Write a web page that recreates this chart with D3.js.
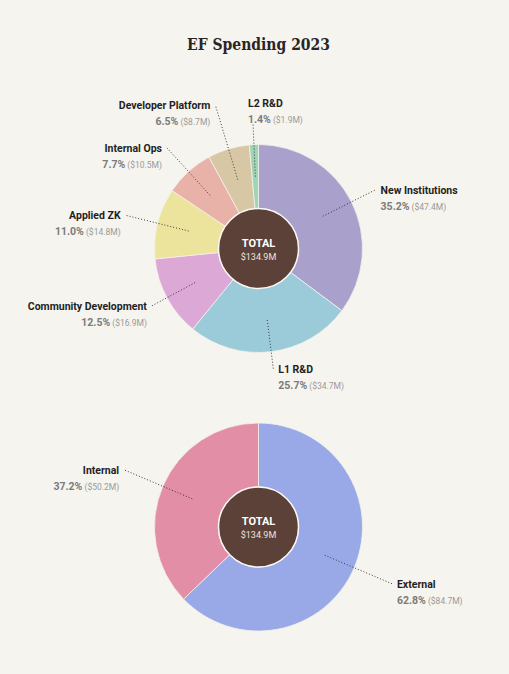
<!DOCTYPE html>
<html>
<head>
<meta charset="utf-8">
<script src="https://cdn.jsdelivr.net/npm/d3@7"></script>
<style>
  html, body { margin: 0; padding: 0; background: #f6f4ee; }
  svg { display: block; }
</style>
</head>
<body>
<div id="mainvis"></div>
<script>
// top donut: by program area, clockwise from 12 o'clock
let areaNames = ["New Institutions", "L1 R&D", "Community Development", "Applied ZK", "Internal Ops", "Developer Platform", "L2 R&D"];
let areaPct = [35.2, 25.7, 12.5, 11.0, 7.7, 6.5, 1.4];
let areaUsd = ["$47.4M", "$34.7M", "$16.9M", "$14.8M", "$10.5M", "$8.7M", "$1.9M"];
let areaColors = ["#a9a1cb", "#9bcbd9", "#dca8d6", "#ece49c", "#e8b2a8", "#d8c7a4", "#9fd4b6"];

// bottom donut: internal vs external
let kindNames = ["External", "Internal"];
let kindPct = [62.8, 37.2];
let kindUsd = ["$84.7M", "$50.2M"];
let kindColors = ["#99a9e8", "#e28ea7"];

let total = "$134.9M";

// label layout: distance of the leader line's outer end, and which side text sits on
let areaLeadR = [131, 121, 121, 137, 136, 150, 126];
let areaSide = ["right", "right", "left", "left", "left", "left", "top"];
let kindLeadR = [145, 146];
let kindSide = ["right", "left"];

let width = 509, height = 674;
let outerR = 104, innerR = 40;

let svg = d3.select("#mainvis")
    .append("svg")
    .attr("width", width)
    .attr("height", height);

svg.append("rect")
    .attr("width", width)
    .attr("height", height)
    .style("fill", "#f6f4ee");

svg.append("text")
    .attr("x", 258.5)
    .attr("y", 50)
    .attr("text-anchor", "middle")
    .attr("textLength", 143)
    .attr("lengthAdjust", "spacingAndGlyphs")
    .style("font", "bold 16px 'DejaVu Serif'")
    .style("fill", "#2a2424")
    .text("EF Spending 2023");

function createDonut(names, pct, usd, colors, leadR, side, cx, cy) {
    let g = svg.append("g")
        .attr("transform", "translate(" + cx + ", " + cy + ")");

    let pie = d3.pie().sort(null).value(d => d.pct);
    let rows = names.map((n, i) => ({name: n, pct: pct[i], usd: usd[i], color: colors[i], r: leadR[i], side: side[i]}));
    let arcs = pie(rows);

    let arc = d3.arc().innerRadius(innerR).outerRadius(outerR);

    g.selectAll(".slice")
        .data(arcs)
        .enter()
        .append("path")
        .attr("class", "slice")
        .attr("d", arc)
        .style("fill", d => d.data.color)
        .style("stroke", "#f4f1ec")
        .style("stroke-width", 0.8);

    // leader lines from slice centroid outward
    let ang = d => (d.startAngle + d.endAngle) / 2;
    let outPt = d => [Math.sin(ang(d)) * d.data.r, -Math.cos(ang(d)) * d.data.r];

    g.selectAll(".lead")
        .data(arcs)
        .enter()
        .append("line")
        .attr("class", "lead")
        .attr("x1", d => arc.centroid(d)[0])
        .attr("y1", d => arc.centroid(d)[1])
        .attr("x2", d => outPt(d)[0])
        .attr("y2", d => outPt(d)[1])
        .style("stroke", "#3a3a3a")
        .style("stroke-width", 1)
        .style("stroke-dasharray", "1,2");

    let labels = g.selectAll(".lbl")
        .data(arcs)
        .enter()
        .append("g")
        .attr("class", "lbl")
        .attr("transform", d => {
            let p = outPt(d);
            if (d.data.side == "right") return "translate(" + (p[0] + 5) + ", " + p[1] + ")";
            if (d.data.side == "left") return "translate(" + (p[0] - 5) + ", " + p[1] + ")";
            return "translate(" + (p[0] - 5) + ", " + (p[1] - 20) + ")";
        });

    labels.append("text")
        .attr("y", 4)
        .attr("text-anchor", d => d.data.side == "left" ? "end" : "start")
        .style("font", "bold 10.5px Roboto")
        .style("fill", "#1f1f1f")
        .text(d => d.data.name);

    let val = labels.append("text")
        .attr("y", 20)
        .attr("text-anchor", d => d.data.side == "left" ? "end" : "start");
    val.append("tspan")
        .style("font", "bold 10.5px Roboto")
        .style("fill", "#7b7b7b")
        .text(d => d.data.pct.toFixed(1) + "%");
    val.append("tspan")
        .style("font", "8.5px Roboto")
        .style("fill", "#9a9a9a")
        .text(d => " (" + d.data.usd + ")");

    g.append("circle")
        .attr("r", innerR)
        .style("fill", "#5b4137")
        .style("stroke", "#fbf8f3")
        .style("stroke-width", 1.5);

    g.append("text")
        .attr("y", -2)
        .attr("text-anchor", "middle")
        .style("font", "bold 11px Roboto")
        .style("fill", "#ffffff")
        .text("TOTAL");

    g.append("text")
        .attr("y", 11)
        .attr("text-anchor", "middle")
        .style("font", "9px Roboto")
        .style("fill", "#eee4df")
        .text(total);
}

createDonut(areaNames, areaPct, areaUsd, areaColors, areaLeadR, areaSide, 258.5, 248.5);
createDonut(kindNames, kindPct, kindUsd, kindColors, kindLeadR, kindSide, 258.5, 527);
</script>
</body>
</html>
